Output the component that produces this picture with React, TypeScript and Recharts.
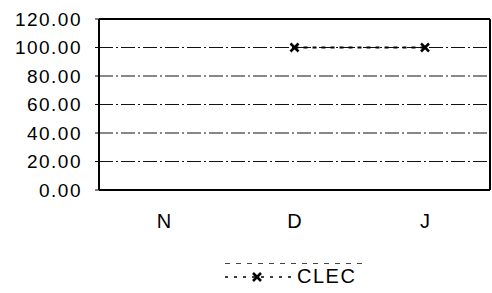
import React from 'react';
import { LineChart, Line, XAxis, YAxis, CartesianGrid, Legend } from 'recharts';

const categories = ['N', 'D', 'J'];
const clecValues: (number | null)[] = [null, 100, 100];
const yTicks = [0, 20, 40, 60, 80, 100, 120];
const gridValues = [20, 40, 60, 80, 100];

const data = categories.map((c, i) => ({ month: c, CLEC: clecValues[i] }));

const FONT = 'Arial, "Liberation Sans", sans-serif';

const XMark = (props: any) => {
  const { cx, cy } = props;
  if (cx == null || cy == null || props.value == null) return null;
  const s = 4;
  return (
    <g>
      <line x1={cx - s} y1={cy - s} x2={cx + s} y2={cy + s} stroke="#000" strokeWidth={2.5} />
      <line x1={cx - s} y1={cy + s} x2={cx + s} y2={cy - s} stroke="#000" strokeWidth={2.5} />
    </g>
  );
};

const LegendContent = () => (
  <div style={{ position: 'relative', width: 490, height: 26, fontFamily: FONT, color: '#000' }}>
    <svg width={140} height={3} style={{ position: 'absolute', left: 225, top: 0 }}>
      <line x1={0} y1={1.5} x2={138} y2={1.5} stroke="#444" strokeWidth={1} strokeDasharray="5 6" />
    </svg>
    <svg width={66} height={14} style={{ position: 'absolute', left: 225, top: 8 }}>
      <line x1={0} y1={7} x2={66} y2={7} stroke="#000" strokeWidth={1.5} strokeDasharray="3 6" />
      <line x1={28} y1={3} x2={36} y2={11} stroke="#000" strokeWidth={2.5} />
      <line x1={28} y1={11} x2={36} y2={3} stroke="#000" strokeWidth={2.5} />
    </svg>
    <span style={{ position: 'absolute', left: 297, top: 3, fontSize: 20, lineHeight: '23px', letterSpacing: 1.5 }}>CLEC</span>
  </div>
);

const PAD = { left: 65, right: 65 };

export default function App() {
  return (
    <div style={{ position: 'absolute', left: 0, top: 0, width: 492, height: 293, background: '#fff' }}>
      <LineChart width={492} height={293} data={data} margin={{ top: 18, right: 1, bottom: 5, left: 0 }}>
        <CartesianGrid vertical={false} horizontalValues={gridValues} stroke="#111" strokeWidth={1} strokeDasharray="14 3 2 3" />
        <XAxis
          dataKey="month"
          padding={PAD}
          axisLine={{ stroke: '#000', strokeWidth: 2 }}
          tickLine={false}
          height={72}
          tick={{ fill: '#000', fontSize: 20, fontFamily: FONT }}
          tickMargin={18}
        />
        <XAxis
          xAxisId="top"
          dataKey="month"
          orientation="top"
          padding={PAD}
          axisLine={{ stroke: '#000', strokeWidth: 2 }}
          tickLine={false}
          tick={false}
          height={1}
        />
        <YAxis
          domain={[0, 120]}
          ticks={yTicks}
          width={99}
          axisLine={{ stroke: '#000', strokeWidth: 2 }}
          tickLine={{ stroke: '#000' }}
          tickSize={4}
          tickMargin={13}
          tickFormatter={(v: number) => v.toFixed(2)}
          tick={{ fill: '#000', fontSize: 19, fontFamily: FONT, letterSpacing: 1.5 }}
          interval={0}
        />
        <YAxis
          yAxisId="right"
          orientation="right"
          domain={[0, 120]}
          width={1}
          axisLine={{ stroke: '#000', strokeWidth: 2 }}
          tickLine={false}
          tick={false}
        />
        <Legend verticalAlign="bottom" height={26} content={<LegendContent />} />
        <Line
          xAxisId="top"
          yAxisId="right"
          type="linear"
          dataKey="CLEC"
          stroke="none"
          dot={false}
          activeDot={false}
          legendType="none"
          isAnimationActive={false}
        />
        <Line
          type="linear"
          dataKey="CLEC"
          stroke="#000"
          strokeWidth={2}
          strokeDasharray="4 5"
          dot={<XMark />}
          activeDot={false}
          connectNulls={false}
          isAnimationActive={false}
        />
      </LineChart>
    </div>
  );
}
